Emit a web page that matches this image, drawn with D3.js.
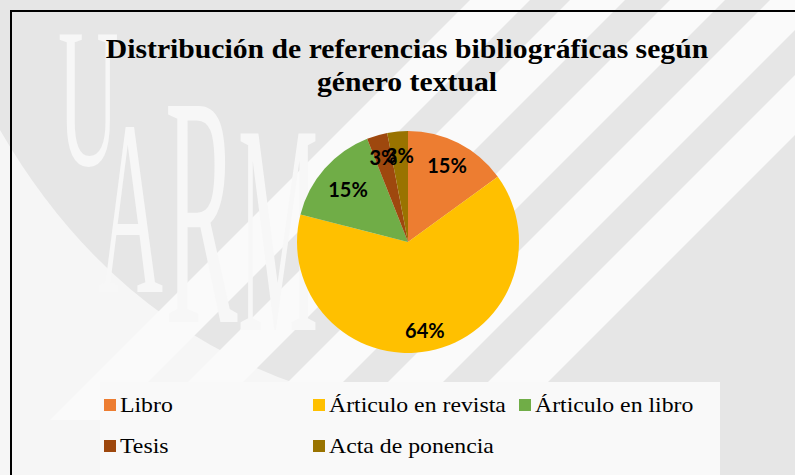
<!DOCTYPE html>
<html><head><meta charset="utf-8">
<script src="https://cdn.jsdelivr.net/npm/d3@7"></script>
<style>html,body{margin:0;padding:0;background:#e6e6e6;overflow:hidden}</style>
</head><body>
<svg id="c" width="795" height="475"></svg>
<script>
const categories = ["Libro", "Árticulo en revista", "Árticulo en libro", "Tesis", "Acta de ponencia"];
const values = [15, 64, 15, 3, 3];
const colors = ["#ED7D31", "#FFC000", "#70AD47", "#9E480E", "#997300"];
const titleLines = ["Distribución de referencias bibliográficas según", "género textual"];

const svg = d3.select("#c");
const W = 795, H = 475;

// watermark-like background
const bg = svg.append("g");
bg.append("rect").attr("width", W).attr("height", H).attr("fill", "#e6e6e6");
bg.append("path").attr("d", "M0,130 Q110,320 300,385 L300,475 L0,475 Z").attr("fill", "#f6f6f6");
const stripes = [[470, 60], [570, 55], [670, 55], [770, 55], [870, 60]];
stripes.forEach(([x0, w]) => {
  bg.append("path")
    .attr("d", `M${x0},0 L${x0 + w},0 L${x0 + w - 420},420 L${x0 - 420},420 Z`)
    .attr("fill", "#fafafa");
});
bg.append("rect").attr("x", 100).attr("y", 382).attr("width", 620).attr("height", 93).attr("fill", "#f9f9f9");
const wm = [["U", 58, 165, 200, 0.42], ["A", 98, 292, 250, 0.36], ["R", 165, 322, 330, 0.33], ["M", 238, 330, 300, 0.3]];
wm.forEach(([t, x, y, fs, sx]) => {
  bg.append("text").attr("transform", `translate(${x},${y}) scale(${sx},1)`)
    .attr("font-family", "Liberation Serif").attr("font-size", fs)
    .attr("fill", "#f7f7f7").text(t);
});

// border
svg.append("rect").attr("x", 11).attr("y", 11).attr("width", 800).attr("height", 480)
  .attr("fill", "none").attr("stroke", "#000").attr("stroke-width", 2);

// title
const tt = svg.append("g");
titleLines.forEach((t, i) => {
  const el = tt.append("text").attr("x", 407).attr("y", 58 + i * 33)
    .attr("text-anchor", "middle")
    .attr("font-family", "Liberation Serif").attr("font-weight", "bold").attr("font-size", 28)
    .attr("fill", "#000").text(t);
  const L = el.node().getComputedTextLength();
  el.attr("textLength", L * 1.06).attr("lengthAdjust", "spacingAndGlyphs");
});

// pie
const cx = 408, cy = 242, r = 111;
const pie = d3.pie().sort(null).value(d => d);
const arcs = pie(values);
const arc = d3.arc().innerRadius(0).outerRadius(r);
const g = svg.append("g").attr("transform", `translate(${cx},${cy})`);
g.selectAll("path").data(arcs).join("path")
  .attr("d", arc).attr("fill", (d, i) => colors[i]);

const labelR = [86, 90, 80, 88, 87];
g.selectAll("text").data(arcs).join("text")
  .attr("transform", (d, i) => {
    const a = (d.startAngle + d.endAngle) / 2;
    return `translate(${Math.sin(a) * labelR[i]},${-Math.cos(a) * labelR[i]})`;
  })
  .attr("text-anchor", "middle").attr("dominant-baseline", "central")
  .attr("font-family", "Lato").attr("font-weight", "bold").attr("font-size", 20)
  .attr("fill", "#000")
  .text(d => Math.round(d.data) + "%");

// legend
const legendX = [104, 313, 519, 104, 313];
const legendY = [399, 399, 399, 440, 440];
const lg = svg.append("g");
categories.forEach((c, i) => {
  lg.append("rect").attr("x", legendX[i]).attr("y", legendY[i]).attr("width", 12).attr("height", 12).attr("fill", colors[i]);
  const el = lg.append("text").attr("x", legendX[i] + 16).attr("y", legendY[i] + 13)
    .attr("font-family", "Liberation Serif").attr("font-size", 22).attr("fill", "#000").text(c);
  const L = el.node().getComputedTextLength();
  el.attr("textLength", L * 1.08).attr("lengthAdjust", "spacingAndGlyphs");
});
</script>
</body></html>
